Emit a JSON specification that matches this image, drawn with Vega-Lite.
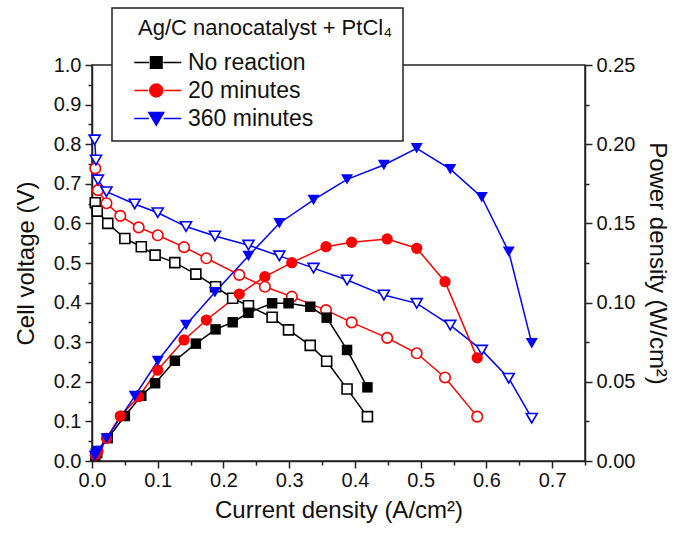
{
  "$schema": "https://vega.github.io/schema/vega-lite/v6.json",
  "width": 493,
  "height": 396,
  "autosize": {"type": "none"},
  "padding": {"left": 92, "top": 65, "right": 88, "bottom": 74},
  "background": "white",
  "config": {
    "view": {"stroke": "#222", "strokeWidth": 1.5},
    "font": "Liberation Sans",
    "axis": {
      "grid": false,
      "domainColor": "#222",
      "domainWidth": 1.5,
      "tickColor": "#222",
      "tickWidth": 1.5,
      "labelFont": "Liberation Sans",
      "labelFontSize": 20,
      "labelColor": "#111",
      "titleFont": "Liberation Sans",
      "titleFontSize": 24,
      "titleFontWeight": "normal",
      "titleColor": "#111",
      "labelOverlap": false,
      "labelFlush": false
    },
    "legend": {
      "orient": "none",
      "legendX": 20,
      "legendY": -57,
      "strokeColor": "#222",
      "strokeWidth": 1.5,
      "fillColor": "white",
      "padding": 10,
      "titleFont": "Liberation Sans",
      "titleFontSize": 22,
      "titleFontWeight": "normal",
      "titleColor": "#111",
      "titleLimit": 400,
      "titlePadding": 11,
      "labelFont": "Liberation Sans",
      "labelFontSize": 23,
      "labelColor": "#111",
      "labelLimit": 300,
      "labelOffset": 43,
      "symbolSize": 121,
      "symbolStrokeWidth": 1.5,
      "rowPadding": 4
    }
  },
  "data": {
    "values": [
      {"s": "No reaction", "x": 0.005, "v": 0.652, "p": 0.0033},
      {"s": "No reaction", "x": 0.008, "v": 0.631, "p": 0.005},
      {"s": "No reaction", "x": 0.024, "v": 0.600, "p": 0.0144},
      {"s": "No reaction", "x": 0.050, "v": 0.562, "p": 0.0284},
      {"s": "No reaction", "x": 0.075, "v": 0.541, "p": 0.0412},
      {"s": "No reaction", "x": 0.096, "v": 0.520, "p": 0.0491},
      {"s": "No reaction", "x": 0.126, "v": 0.501, "p": 0.0633},
      {"s": "No reaction", "x": 0.158, "v": 0.472, "p": 0.0741},
      {"s": "No reaction", "x": 0.188, "v": 0.440, "p": 0.0831},
      {"s": "No reaction", "x": 0.214, "v": 0.411, "p": 0.0876},
      {"s": "No reaction", "x": 0.238, "v": 0.392, "p": 0.0936},
      {"s": "No reaction", "x": 0.274, "v": 0.363, "p": 0.0996},
      {"s": "No reaction", "x": 0.299, "v": 0.331, "p": 0.0996},
      {"s": "No reaction", "x": 0.332, "v": 0.292, "p": 0.0974},
      {"s": "No reaction", "x": 0.357, "v": 0.252, "p": 0.0905},
      {"s": "No reaction", "x": 0.388, "v": 0.182, "p": 0.0701},
      {"s": "No reaction", "x": 0.419, "v": 0.112, "p": 0.0465},
      {"s": "20 minutes", "x": 0.005, "v": 0.739, "p": 0.0037},
      {"s": "20 minutes", "x": 0.009, "v": 0.684, "p": 0.0062},
      {"s": "20 minutes", "x": 0.022, "v": 0.651, "p": 0.0143},
      {"s": "20 minutes", "x": 0.043, "v": 0.619, "p": 0.0284},
      {"s": "20 minutes", "x": 0.071, "v": 0.590, "p": 0.0406},
      {"s": "20 minutes", "x": 0.100, "v": 0.570, "p": 0.0574},
      {"s": "20 minutes", "x": 0.140, "v": 0.540, "p": 0.0764},
      {"s": "20 minutes", "x": 0.174, "v": 0.512, "p": 0.0890},
      {"s": "20 minutes", "x": 0.224, "v": 0.470, "p": 0.1054},
      {"s": "20 minutes", "x": 0.263, "v": 0.440, "p": 0.1164},
      {"s": "20 minutes", "x": 0.304, "v": 0.415, "p": 0.1252},
      {"s": "20 minutes", "x": 0.356, "v": 0.381, "p": 0.1353},
      {"s": "20 minutes", "x": 0.395, "v": 0.350, "p": 0.1381},
      {"s": "20 minutes", "x": 0.449, "v": 0.311, "p": 0.1402},
      {"s": "20 minutes", "x": 0.494, "v": 0.272, "p": 0.1343},
      {"s": "20 minutes", "x": 0.537, "v": 0.211, "p": 0.1132},
      {"s": "20 minutes", "x": 0.586, "v": 0.112, "p": 0.0651},
      {"s": "360 minutes", "x": 0.004, "v": 0.811, "p": 0.0032},
      {"s": "360 minutes", "x": 0.006, "v": 0.760, "p": 0.0046},
      {"s": "360 minutes", "x": 0.009, "v": 0.710, "p": 0.0064},
      {"s": "360 minutes", "x": 0.022, "v": 0.680, "p": 0.0143},
      {"s": "360 minutes", "x": 0.065, "v": 0.649, "p": 0.0410},
      {"s": "360 minutes", "x": 0.100, "v": 0.627, "p": 0.0631},
      {"s": "360 minutes", "x": 0.143, "v": 0.592, "p": 0.0859},
      {"s": "360 minutes", "x": 0.187, "v": 0.568, "p": 0.1065},
      {"s": "360 minutes", "x": 0.238, "v": 0.545, "p": 0.1294},
      {"s": "360 minutes", "x": 0.285, "v": 0.518, "p": 0.1501},
      {"s": "360 minutes", "x": 0.337, "v": 0.487, "p": 0.1648},
      {"s": "360 minutes", "x": 0.388, "v": 0.457, "p": 0.1778},
      {"s": "360 minutes", "x": 0.444, "v": 0.419, "p": 0.1869},
      {"s": "360 minutes", "x": 0.494, "v": 0.398, "p": 0.1974},
      {"s": "360 minutes", "x": 0.545, "v": 0.343, "p": 0.1842},
      {"s": "360 minutes", "x": 0.593, "v": 0.280, "p": 0.1665},
      {"s": "360 minutes", "x": 0.634, "v": 0.209, "p": 0.1321},
      {"s": "360 minutes", "x": 0.669, "v": 0.108, "p": 0.0743}
    ]
  },
  "layer": [
    {
      "mark": {"type": "line", "strokeWidth": 1.5},
      "encoding": {
        "x": {"field": "x", "type": "quantitative", "scale": {"domain": [0, 0.75], "nice": false, "zero": false},
          "axis": {"title": "Current density (A/cm²)", "values": [0,0.05,0.1,0.15,0.2,0.25,0.3,0.35,0.4,0.45,0.5,0.55,0.6,0.65,0.7,0.75],
            "labelExpr": "abs(datum.value*10 - round(datum.value*10)) > 0.01 ? '' : format(datum.value, '.1f')",
            "tickSize": {"condition": {"test": "abs(datum.value*10 - round(datum.value*10)) > 0.01", "value": 4}, "value": 7},
            "labelPadding": 2, "titlePadding": 8}},
        "y": {"field": "v", "type": "quantitative", "scale": {"domain": [0, 1], "nice": false, "zero": false}, "axis": null},
        "color": {"field": "s", "type": "nominal", "scale": {"domain": ["No reaction", "20 minutes", "360 minutes"], "range": ["#000000", "#ff0000", "#0000ff"]}, "legend": null}
      }
    },
    {
      "mark": {"type": "line", "strokeWidth": 1.5},
      "encoding": {
        "x": {"field": "x", "type": "quantitative", "scale": {"domain": [0, 0.75], "nice": false, "zero": false},
          "axis": {"title": "Current density (A/cm²)", "values": [0,0.05,0.1,0.15,0.2,0.25,0.3,0.35,0.4,0.45,0.5,0.55,0.6,0.65,0.7,0.75],
            "labelExpr": "abs(datum.value*10 - round(datum.value*10)) > 0.01 ? '' : format(datum.value, '.1f')",
            "tickSize": {"condition": {"test": "abs(datum.value*10 - round(datum.value*10)) > 0.01", "value": 4}, "value": 7},
            "labelPadding": 2, "titlePadding": 8}},
        "y": {"field": "p", "type": "quantitative", "scale": {"domain": [0, 0.25], "nice": false, "zero": false}, "axis": null},
        "color": {"field": "s", "type": "nominal", "scale": {"domain": ["No reaction", "20 minutes", "360 minutes"], "range": ["#000000", "#ff0000", "#0000ff"]}, "legend": null}
      }
    },
    {
      "mark": {"type": "point", "filled": true, "fill": "white", "strokeWidth": 1.6, "opacity": 1},
      "encoding": {
        "x": {"field": "x", "type": "quantitative", "scale": {"domain": [0, 0.75], "nice": false, "zero": false},
          "axis": {"title": "Current density (A/cm²)", "values": [0,0.05,0.1,0.15,0.2,0.25,0.3,0.35,0.4,0.45,0.5,0.55,0.6,0.65,0.7,0.75],
            "labelExpr": "abs(datum.value*10 - round(datum.value*10)) > 0.01 ? '' : format(datum.value, '.1f')",
            "tickSize": {"condition": {"test": "abs(datum.value*10 - round(datum.value*10)) > 0.01", "value": 4}, "value": 7},
            "labelPadding": 2, "titlePadding": 8}},
        "y": {"field": "v", "type": "quantitative", "scale": {"domain": [0, 1], "nice": false, "zero": false},
          "axis": {"title": "Cell voltage (V)", "orient": "left", "values": [0,0.05,0.1,0.15,0.2,0.25,0.3,0.35,0.4,0.45,0.5,0.55,0.6,0.65,0.7,0.75,0.8,0.85,0.9,0.95,1],
            "labelExpr": "abs(datum.value*10 - round(datum.value*10)) > 0.01 ? '' : format(datum.value, '.1f')",
            "tickSize": {"condition": {"test": "abs(datum.value*10 - round(datum.value*10)) > 0.01", "value": 4}, "value": 7},
            "labelPadding": 4, "titlePadding": 15}},
        "stroke": {"field": "s", "type": "nominal", "scale": {"domain": ["No reaction", "20 minutes", "360 minutes"], "range": ["#000000", "#ff0000", "#0000ff"]}, "legend": null},
        "shape": {"field": "s", "type": "nominal", "scale": {"domain": ["No reaction", "20 minutes", "360 minutes"], "range": ["square", "circle", "triangle-down"]}, "legend": null},
        "size": {"field": "s", "type": "ordinal", "scale": {"domain": ["No reaction", "20 minutes", "360 minutes"], "range": [100, 121, 170]}, "legend": null}
      }
    },
    {
      "mark": {"type": "point", "filled": true, "opacity": 1},
      "encoding": {
        "x": {"field": "x", "type": "quantitative", "scale": {"domain": [0, 0.75], "nice": false, "zero": false},
          "axis": {"title": "Current density (A/cm²)", "values": [0,0.05,0.1,0.15,0.2,0.25,0.3,0.35,0.4,0.45,0.5,0.55,0.6,0.65,0.7,0.75],
            "labelExpr": "abs(datum.value*10 - round(datum.value*10)) > 0.01 ? '' : format(datum.value, '.1f')",
            "tickSize": {"condition": {"test": "abs(datum.value*10 - round(datum.value*10)) > 0.01", "value": 4}, "value": 7},
            "labelPadding": 2, "titlePadding": 8}},
        "y": {"field": "p", "type": "quantitative", "scale": {"domain": [0, 0.25], "nice": false, "zero": false},
          "axis": {"title": "Power density (W/cm²)", "orient": "right", "values": [0,0.025,0.05,0.075,0.1,0.125,0.15,0.175,0.2,0.225,0.25],
            "labelExpr": "abs(datum.value*20 - round(datum.value*20)) > 0.01 ? '' : format(datum.value, '.2f')",
            "tickSize": {"condition": {"test": "abs(datum.value*20 - round(datum.value*20)) > 0.01", "value": 4}, "value": 7},
            "labelPadding": 4, "titlePadding": 10}},
        "color": {"field": "s", "type": "nominal", "scale": {"domain": ["No reaction", "20 minutes", "360 minutes"], "range": ["#000000", "#ff0000", "#0000ff"]}, "legend": null},
        "shape": {"field": "s", "type": "nominal", "scale": {"domain": ["No reaction", "20 minutes", "360 minutes"], "range": ["square", "circle", "triangle-down"]}, "legend": null},
        "size": {"field": "s", "type": "ordinal", "scale": {"domain": ["No reaction", "20 minutes", "360 minutes"], "range": [110, 144, 196]}, "legend": null}
      }
    },
    {
      "transform": [{"filter": "false"}],
      "mark": {"type": "point", "filled": true, "opacity": 1},
      "encoding": {
        "fill": {"field": "s", "type": "nominal", "scale": {"domain": ["No reaction", "20 minutes", "360 minutes"], "range": ["#000000", "#ff0000", "#0000ff"]},
          "legend": {"title": "\u2800Ag/C nanocatalyst + PtCl₄"}},
        "stroke": {"field": "s", "type": "nominal", "scale": {"domain": ["No reaction", "20 minutes", "360 minutes"], "range": ["#000000", "#ff0000", "#0000ff"]},
          "legend": {"title": "\u2800Ag/C nanocatalyst + PtCl₄"}},
        "shape": {"field": "s", "type": "nominal", "scale": {"domain": ["No reaction", "20 minutes", "360 minutes"],
            "range": [
              "M0.14,0H2.84M5.44,0H8.69M3.09,-1.05H5.19V1.05H3.09Z",
              "M0.14,0H2.69M5.59,0H8.69M2.96,0A1.18,1.18 0 1,0 5.32,0A1.18,1.18 0 1,0 2.96,0Z",
              "M0.14,0H2.79M5.49,0H8.69M2.78,-1.1H5.5L4.14,1.25Z"
            ]},
          "legend": {"title": "\u2800Ag/C nanocatalyst + PtCl₄"}}
      }
    }
  ],
  "resolve": {"scale": {"y": "independent", "shape": "independent", "color": "independent", "stroke": "independent", "fill": "independent", "size": "independent"}}
}
